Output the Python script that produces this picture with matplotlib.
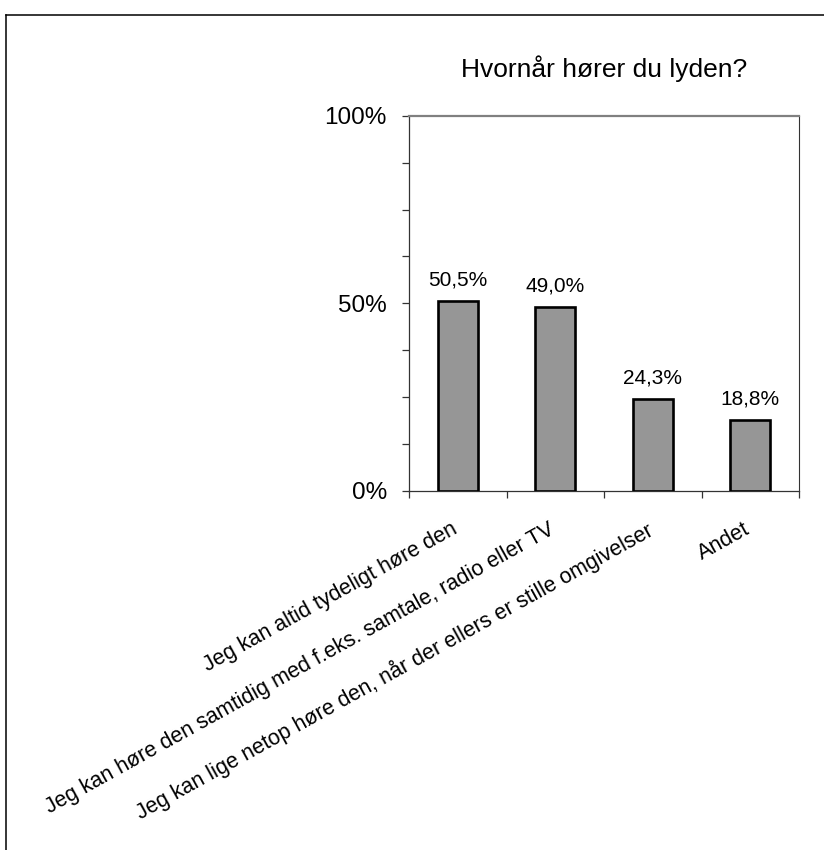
import matplotlib
matplotlib.use("Agg")
import matplotlib.pyplot as plt
import matplotlib.transforms as mtransforms
from matplotlib.lines import Line2D

plt.rcParams['font.family'] = ['Liberation Sans', 'DejaVu Sans']

categories = [
    "Jeg kan altid tydeligt høre den",
    "Jeg kan høre den samtidig med f.eks. samtale, radio eller TV",
    "Jeg kan lige netop høre den, når der ellers er stille omgivelser",
    "Andet",
]
values = [50.5, 49.0, 24.3, 18.8]
ytick_values = [0, 50, 100]
ytick_labels = ["0%", "50%", "100%"]
title = "Hvornår hører du lyden?"

W, H = 824, 850
fig = plt.figure(figsize=(W / 100, H / 100), dpi=100)

# Outer border (top and left visible)
fig.add_artist(Line2D([5.5 / W, 1.0], [1 - 14.5 / H, 1 - 14.5 / H], transform=fig.transFigure,
                      color='black', lw=1.1))
fig.add_artist(Line2D([5.5 / W, 5.5 / W], [1 - 14.5 / H, 0.0], transform=fig.transFigure,
                      color='black', lw=1.1))

left, right, top, bottom = 409, 799, 116, 490.5
ax = fig.add_axes([left / W, 1 - bottom / H, (right - left) / W, (bottom - top) / H])

x = [i + 0.5 for i in range(len(values))]
ax.bar(x, values, width=0.41, color='#969696', edgecolor='black', linewidth=1.9, zorder=3)

ax.set_xlim(0, len(values))
ax.set_ylim(0, 100)

ax.spines['top'].set_color('#808080')
ax.spines['top'].set_linewidth(1.6)
ax.spines['right'].set_color('#333333')
ax.spines['right'].set_linewidth(0.8)
ax.spines['left'].set_color('#333333')
ax.spines['left'].set_linewidth(0.9)
ax.spines['bottom'].set_color('#333333')
ax.spines['bottom'].set_linewidth(0.9)

ax.set_yticks(ytick_values)
ax.set_yticklabels(ytick_labels, fontsize=17.5)
ax.set_yticks([12.5, 25, 37.5, 62.5, 75, 87.5], minor=True)
ax.tick_params(axis='y', which='both', direction='out', length=5, width=0.9, color='#333333', pad=11)

ax.set_xticks(range(len(values) + 1))
ax.set_xticklabels([])
ax.tick_params(axis='x', which='major', direction='out', length=5, width=0.9, color='#333333')

# data labels
for xi, v in zip(x, values):
    ax.annotate(f"{v:.1f}%".replace('.', ','), (xi, v), xytext=(0, 11.2), textcoords='offset points',
                ha='center', va='baseline', fontsize=15)

# category labels
base = mtransforms.blended_transform_factory(ax.transData, ax.transAxes)
for xi, lab in zip(x, categories):
    tr = base + mtransforms.ScaledTranslation(-7 / 100, -28 / 100, fig.dpi_scale_trans)
    ax.text(xi, 0, lab, transform=tr, rotation=29, rotation_mode='anchor',
            ha='right', va='top', fontsize=15.5)

fig.text(604 / W, 1 - 77 / H, title, ha='center', va='baseline', fontsize=19)

fig.savefig("out.png", dpi=100)
